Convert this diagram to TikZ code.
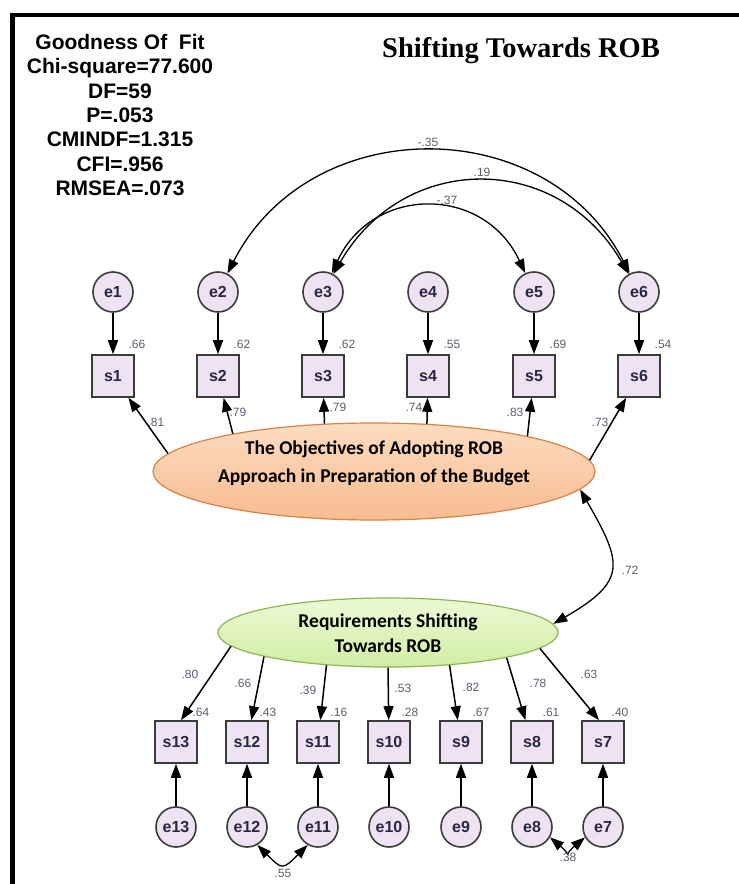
\documentclass[tikz,border=0pt]{standalone}
\usepackage{fontspec}
\setmainfont{Liberation Sans}
\newfontfamily\titlefont{Liberation Serif}
\newfontfamily\calfont{Carlito}
\usetikzlibrary{arrows.meta,shapes.geometric}
\definecolor{boxfill}{RGB}{238,226,243}
\definecolor{nodeline}{RGB}{60,60,60}
\definecolor{numcol}{RGB}{90,95,115}
\definecolor{txtcol}{RGB}{40,40,70}
\definecolor{peachA}{RGB}{252,220,192}
\definecolor{peachB}{RGB}{248,188,145}
\definecolor{peachline}{RGB}{215,130,70}
\definecolor{greenA}{RGB}{236,249,212}
\definecolor{greenB}{RGB}{208,238,165}
\definecolor{greenline}{RGB}{140,180,80}
\begin{document}
\begin{tikzpicture}[x=1pt,y=1pt,
  err/.style={circle, draw=nodeline, line width=1.6pt, fill=boxfill, minimum size=40pt, inner sep=0pt, font=\bfseries\fontsize{16}{16}\selectfont, text=txtcol},
  obs/.style={rectangle, draw=nodeline, line width=1.6pt, fill=boxfill, minimum width=42pt, minimum height=42pt, inner sep=0pt, font=\bfseries\fontsize{16}{16}\selectfont, text=txtcol},
  lat/.style={ellipse, line width=1.2pt, inner sep=0pt},
  lattext/.style={align=center, font=\calfont\bfseries\fontsize{19.5}{28}\selectfont, inner sep=0pt},
  num/.style={font=\fontsize{12}{12}\selectfont, text=numcol, inner sep=0pt},
  load/.style={-{Triangle[length=14pt,width=10pt]}, line width=1.5pt},
  cov/.style={{Triangle[length=14pt,width=10pt]}-{Triangle[length=14pt,width=10pt]}, line width=1.3pt},
]
\useasboundingbox (0,0) rectangle (739,884);
\fill[white] (0,0) rectangle (739,884);
% frame
\draw[line width=4.5pt] (12.5,0) -- (12.5,869) -- (739,869);
% headings
\node[font=\bfseries\fontsize{21}{24.4}\selectfont, align=center, inner sep=0pt] (gof) at (120,769)
  {Goodness Of~ Fit\\Chi-square=77.600\\DF=59\\P=.053\\CMINDF=1.315\\CFI=.956\\RMSEA=.073};
\node[font=\titlefont\bfseries\fontsize{28.5}{30}\selectfont, anchor=base, inner sep=0pt] (title) at (521,826) {Shifting Towards ROB};
% top indicators
\foreach \i/\x in {1/113,2/218,3/323,4/428,5/534,6/639}{
  \node[err] (e\i) at (\x,592) {e\i};
  \node[obs] (s\i) at (\x,508) {s\i};
  \draw[load] (e\i) -- (s\i);
}
\foreach \x/\v [count=\k] in {137/.66,242/.62,347/.62,452/.55,558/.69,663/.54}{
  \node[num] (r\k) at (\x,540) {\v};
}
% latent 1
\node[lat, draw=peachline, top color=peachA, bottom color=peachB, minimum width=442pt, minimum height=97pt] (O1) at (374,412.5) {};
\node[lattext] (t1) at (374,421) {The Objectives of Adopting ROB\\Approach in Preparation of the Budget};
\foreach \a/\i in {175.5/1,165.5/2,136/3,42.5/4,13.6/5,3.9/6}{
  \draw[load] (O1.\a) -- (s\i);
}
\node[num] (l1) at (156,462) {.81};
\node[num] (l2) at (238,472) {.79};
\node[num] (l3) at (338,477) {.79};
\node[num] (l4) at (414,477) {.74};
\node[num] (l5) at (515,472) {.83};
\node[num] (l6) at (600,462) {.73};
% latent 2
\node[lat, draw=greenline, top color=greenA, bottom color=greenB, minimum width=340pt, minimum height=69pt] (O2) at (388,251.5) {};
\node[lattext, font=\calfont\bfseries\fontsize{19.5}{25}\selectfont] (t2) at (388,251) {Requirements Shifting\\Towards ROB};
\draw[cov] (O1.355.6) to[out=-60,in=30,looseness=1.6] (O2.3);
\node[num] (c72) at (630,314) {.72};
% bottom indicators
\foreach \i/\x in {13/176,12/247,11/318,10/389,9/461,8/532,7/603}{
  \node[obs] (s\i) at (\x,142) {s\i};
  \node[err] (e\i) at (\x,57) {e\i};
  \draw[load] (e\i) -- (s\i);
}
\draw[load] (O2.185.4) -- ([xshift=5pt]s13.north);
\foreach \a/\i in {191.7/12,208/11,270/10,332/9,348/8}{
  \draw[load] (O2.\a) -- (s\i);
}
\draw[load] (O2.354.7) -- ([xshift=-4pt]s7.north);
\foreach \x/\y/\v [count=\k] in {190/210/.80,243/201/.66,308/194/.39,403/196/.53,471/197/.82,538/201/.78,589/210/.63}{
  \node[num] (m\k) at (\x,\y) {\v};
}
\foreach \x/\v [count=\k] in {201/.64,268/.43,339/.16,410/.28,481/.67,551/.61,620/.40}{
  \node[num] (q\k) at (\x,172) {\v};
}
% covariances top
\draw[cov] (e2.63) to[out=63,in=117,looseness=1.16] (e6.117);
\draw[cov] (e3.60) to[out=60,in=120,looseness=1.23] (e6.120);
\draw[cov] (e3.65) to[out=65,in=115,looseness=1.29] (e5.115);
\node[num] (c35) at (428,742) {-.35};
\node[num] (c19) at (482,712) {.19};
\node[num] (c37) at (447,684) {-.37};
% covariances bottom
\draw[cov] (e12.-60) to[out=-45,in=-135,looseness=1.8] (e11.240);
\draw[cov] (e8.-30) to[out=-40,in=-140,looseness=2.2] (e7.210);
\node[num] (c55) at (283,11) {.55};
\node[num] (c38) at (568,27) {.38};
\end{tikzpicture}
\end{document}
